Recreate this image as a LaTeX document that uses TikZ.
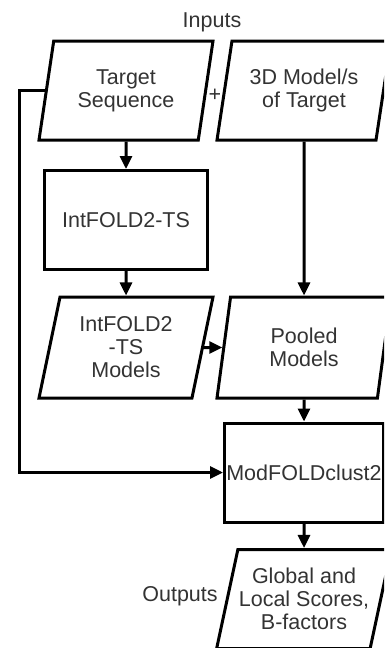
\documentclass[tikz,border=0pt]{standalone}
\usepackage{fontspec}
\setmainfont{Liberation Sans}
\setsansfont{Liberation Sans}
\usetikzlibrary{shapes.geometric,arrows.meta}
\definecolor{txtgrey}{HTML}{333333}
\begin{document}
\begin{tikzpicture}[x=1pt,y=-1pt,font=\sffamily\fontsize{21.5}{23}\selectfont,line width=3pt,
  io/.style={trapezium,trapezium left angle=71.6,trapezium right angle=108.4,trapezium stretches body=true,
    draw,minimum width=174pt,minimum height=99pt,align=center,text=txtgrey,inner sep=1pt},
  proc/.style={rectangle,draw,minimum height=99pt,align=center,text=txtgrey,inner sep=1pt},
  flow/.style={-{Triangle[length=13pt,width=12pt]}}]
\path[use as bounding box] (0,0) rectangle (384,648);
\clip (0,0) rectangle (384,648);
\node[io] (seq) at (126,90.5) {Target\\Sequence};
\node[io] (mdl) at (304,90.5) {3D Model/s\\of Target};
\node[proc,minimum width=163pt] (ifd) at (126,220) {IntFOLD2-TS};
\node[io,minimum height=101pt] (ifm) at (126,347.5) {IntFOLD2\\-TS\\Models};
\node[io,minimum height=101pt] (pool) at (304,347.5) {Pooled\\Models};
\node[proc,minimum width=159pt] (mfc) at (304,472.5) {ModFOLDclust2};
\node[io] (out) at (304,599) {Global and\\Local Scores,\\B-factors};
\node[text=txtgrey] (inlbl) at (212,22) {Inputs};
\node[text=txtgrey] (plus) at (215,95) {+};
\node[text=txtgrey] (outlbl) at (180,596) {Outputs};
\coordinate (rail) at (19,0);
\draw[flow] (seq.south) -- (ifd.north);
\draw[flow] (ifd.south) -- (ifm.north);
\draw[flow] (mdl.south) -- (pool.north);
\draw[flow] (ifm.east) -- (pool.west);
\draw[flow] (pool.south) -- (mfc.north);
\draw[flow] (mfc.south) -- (out.north);
\draw[flow] (seq.west) -- (seq.west -| rail) |- (mfc.west);
\end{tikzpicture}
\end{document}
